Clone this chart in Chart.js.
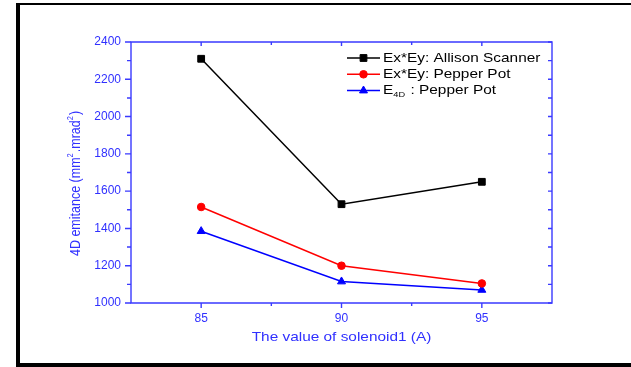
<!DOCTYPE html>
<html>
<head>
<meta charset="utf-8">
<script src="https://cdn.jsdelivr.net/npm/chart.js@4/dist/chart.umd.min.js"></script>
<style>
  html, body { margin: 0; padding: 0; background: #fff; }
  #wrap { position: relative; width: 631px; height: 367px; overflow: hidden; }
  #frame {
    position: absolute; left: 16px; top: 3px; width: 640px; height: 358px;
    border-left: 4px solid #000; border-top: 2px solid #000; border-bottom: 4px solid #000;
  }
  canvas { position: absolute; left: 0; top: 0; }
</style>
</head>
<body>
<div id="wrap">
  <div id="frame"></div>
  <canvas id="c" width="631" height="367"></canvas>
</div>
<script>
// Solenoid 1 current (A) and the measured 4D emittance (mm^2.mrad^2)
const solenoidCurrent = [85, 90, 95];
const allisonScannerExEy = [2310, 1530, 1650];
const pepperPotExEy = [1515, 1200, 1105];
const pepperPotE4D = [1385, 1115, 1070];

const xMajorTicks = [85, 90, 95];
const xMinorTicks = [87.5, 92.5];
const yMajorTicks = [1000, 1200, 1400, 1600, 1800, 2000, 2200, 2400];
const yMinorTicks = [1100, 1300, 1500, 1700, 1900, 2100, 2300];

const seriesLabels = ['Ex*Ey: Allison Scanner', 'Ex*Ey: Pepper Pot', 'E4D : Pepper Pot'];
// legend text split into runs, the second element of a pair marks a subscript
const legendRuns = [
  [['Ex*Ey: Allison Scanner', false]],
  [['Ex*Ey: Pepper Pot', false]],
  [['E', false], ['4D', true], [' : Pepper Pot', false]]
];
const xTitle = 'The value of solenoid1 (A)';
const yTitleRuns = [['4D emitance (mm', false], ['2', true], ['.mrad', false], ['2', true], [')', false]];

const AXIS = '#3a3aff';
const TEXT = '#3030ff';
const FONT = '"Liberation Sans", Arial, sans-serif';
const WIDE = 1.14; // horizontal stretch of the title and legend lettering

function pts(ys) { return solenoidCurrent.map((x, i) => ({ x: x, y: ys[i] })); }

// draw a run list (normal / raised / lowered pieces) starting at x, centred on y
function runsWidth(ctx, runs, size) {
  let w = 0;
  runs.forEach(([t, small]) => {
    ctx.font = (small ? size * 0.6 : size) + 'px ' + FONT;
    w += ctx.measureText(t).width + (small ? 1 : 0);
  });
  return w;
}
function drawRuns(ctx, runs, size, x, y, shift) {
  runs.forEach(([t, small]) => {
    ctx.font = (small ? size * 0.6 : size) + 'px ' + FONT;
    ctx.fillText(t, x, small ? y + shift : y);
    x += ctx.measureText(t).width + (small ? 1 : 0);
  });
}

// Box around the plot with outward/inward tick marks
const axisBoxPlugin = {
  id: 'axisBox',
  afterDatasetsDraw(chart) {
    const { ctx, chartArea: a, scales } = chart;
    const xs = scales.x, ys = scales.y;
    ctx.save();
    ctx.strokeStyle = AXIS;
    ctx.lineWidth = 1.4;
    ctx.beginPath();
    ctx.rect(a.left, a.top, a.right - a.left, a.bottom - a.top);
    ctx.stroke();
    ctx.beginPath();
    const tick = (x1, y1, x2, y2) => { ctx.moveTo(x1, y1); ctx.lineTo(x2, y2); };
    xMajorTicks.forEach(v => {
      const px = xs.getPixelForValue(v);
      tick(px, a.bottom, px, a.bottom + 5);
      tick(px, a.top, px, a.top + 4);
    });
    xMinorTicks.forEach(v => {
      const px = xs.getPixelForValue(v);
      tick(px, a.bottom, px, a.bottom + 3);
      tick(px, a.top, px, a.top + 3);
    });
    yMajorTicks.forEach(v => {
      const py = ys.getPixelForValue(v);
      tick(a.left, py, a.left - 6, py);
      tick(a.right, py, a.right - 4, py);
    });
    yMinorTicks.forEach(v => {
      const py = ys.getPixelForValue(v);
      tick(a.left, py, a.left - 4, py);
      tick(a.right, py, a.right - 4, py);
    });
    ctx.stroke();
    ctx.restore();
  }
};

// Axis titles, the y one with real superscripts
const titlesPlugin = {
  id: 'axisTitles',
  afterDraw(chart) {
    const { ctx, chartArea: a } = chart;
    const size = 13.5;
    ctx.save();
    ctx.fillStyle = TEXT;
    ctx.textBaseline = 'middle';
    // x title
    ctx.save();
    ctx.translate((a.left + a.right) / 2, a.bottom + 34);
    ctx.scale(WIDE, 1);
    ctx.font = size + 'px ' + FONT;
    ctx.textAlign = 'center';
    ctx.fillText(xTitle, 0, 0);
    ctx.restore();
    // y title (its letter height runs along the screen x, so stretch that way)
    ctx.save();
    ctx.translate(a.left - 55, (a.top + a.bottom) / 2 + 11);
    ctx.rotate(-Math.PI / 2);
    ctx.scale(1, 1.2);
    const ySize = 12.5;
    const w = runsWidth(ctx, yTitleRuns, ySize);
    drawRuns(ctx, yTitleRuns, ySize, -w / 2, 0, -4.5);
    ctx.restore();
    ctx.restore();
  }
};

// Legend in the upper right corner of the plot
const legendPlugin = {
  id: 'cornerLegend',
  afterDraw(chart) {
    const { ctx, chartArea: a } = chart;
    const size = 13.5;
    const x0 = a.right - 205, x1 = x0 + 33, tx = x1 + 3;
    ctx.save();
    chart.data.datasets.forEach((ds, i) => {
      const y = a.top + 16 + i * 16.3;
      ctx.strokeStyle = ds.borderColor;
      ctx.lineWidth = ds.borderWidth;
      ctx.beginPath();
      ctx.moveTo(x0, y); ctx.lineTo(x1, y);
      ctx.stroke();
      ctx.fillStyle = ds.pointBackgroundColor;
      ctx.strokeStyle = ds.borderColor;
      ctx.lineWidth = 1;
      Chart.helpers.drawPoint(ctx, { pointStyle: ds.pointStyle, radius: ds.pointRadius, borderWidth: 1, rotation: 0 }, (x0 + x1) / 2, y);
      ctx.fillStyle = '#000';
      ctx.textBaseline = 'middle';
      ctx.save();
      ctx.translate(tx, y);
      ctx.scale(WIDE, 1);
      drawRuns(ctx, legendRuns[i], size, 0, 0, 4);
      ctx.restore();
    });
    ctx.restore();
  }
};

const mkSet = (label, ys, color, style, r) => ({
  label: label,
  data: pts(ys),
  borderColor: color,
  backgroundColor: color,
  pointBackgroundColor: color,
  pointBorderColor: color,
  pointStyle: style,
  pointRadius: r,
  pointBorderWidth: 1,
  borderWidth: 1.5,
  tension: 0
});

new Chart(document.getElementById('c'), {
  type: 'line',
  data: {
    datasets: [
      mkSet(seriesLabels[0], allisonScannerExEy, '#000000', 'rect', 4.8),
      mkSet(seriesLabels[1], pepperPotExEy, '#ff0000', 'circle', 3.8),
      mkSet(seriesLabels[2], pepperPotE4D, '#0000ff', 'triangle', 4.6)
    ]
  },
  options: {
    responsive: false,
    animation: false,
    events: [],
    layout: { padding: { left: 0, top: 42, right: 79, bottom: 0 } },
    plugins: { legend: { display: false }, tooltip: { enabled: false } },
    scales: {
      x: {
        type: 'linear',
        min: 82.5, max: 97.5,
        afterBuildTicks: s => { s.ticks = xMajorTicks.map(v => ({ value: v })); },
        afterFit: s => { s.height = 64; },
        grid: { display: false, drawTicks: false },
        border: { display: false },
        ticks: { color: TEXT, padding: 8, font: { family: FONT, size: 12 }, callback: v => String(v) }
      },
      y: {
        type: 'linear',
        min: 1000, max: 2400,
        afterBuildTicks: s => { s.ticks = yMajorTicks.map(v => ({ value: v })); },
        afterFit: s => { s.width = 131; },
        grid: { display: false, drawTicks: false },
        border: { display: false },
        ticks: { color: TEXT, padding: 10, font: { family: FONT, size: 12 }, callback: v => String(v) }
      }
    }
  },
  plugins: [axisBoxPlugin, titlesPlugin, legendPlugin]
});
</script>
</body>
</html>
